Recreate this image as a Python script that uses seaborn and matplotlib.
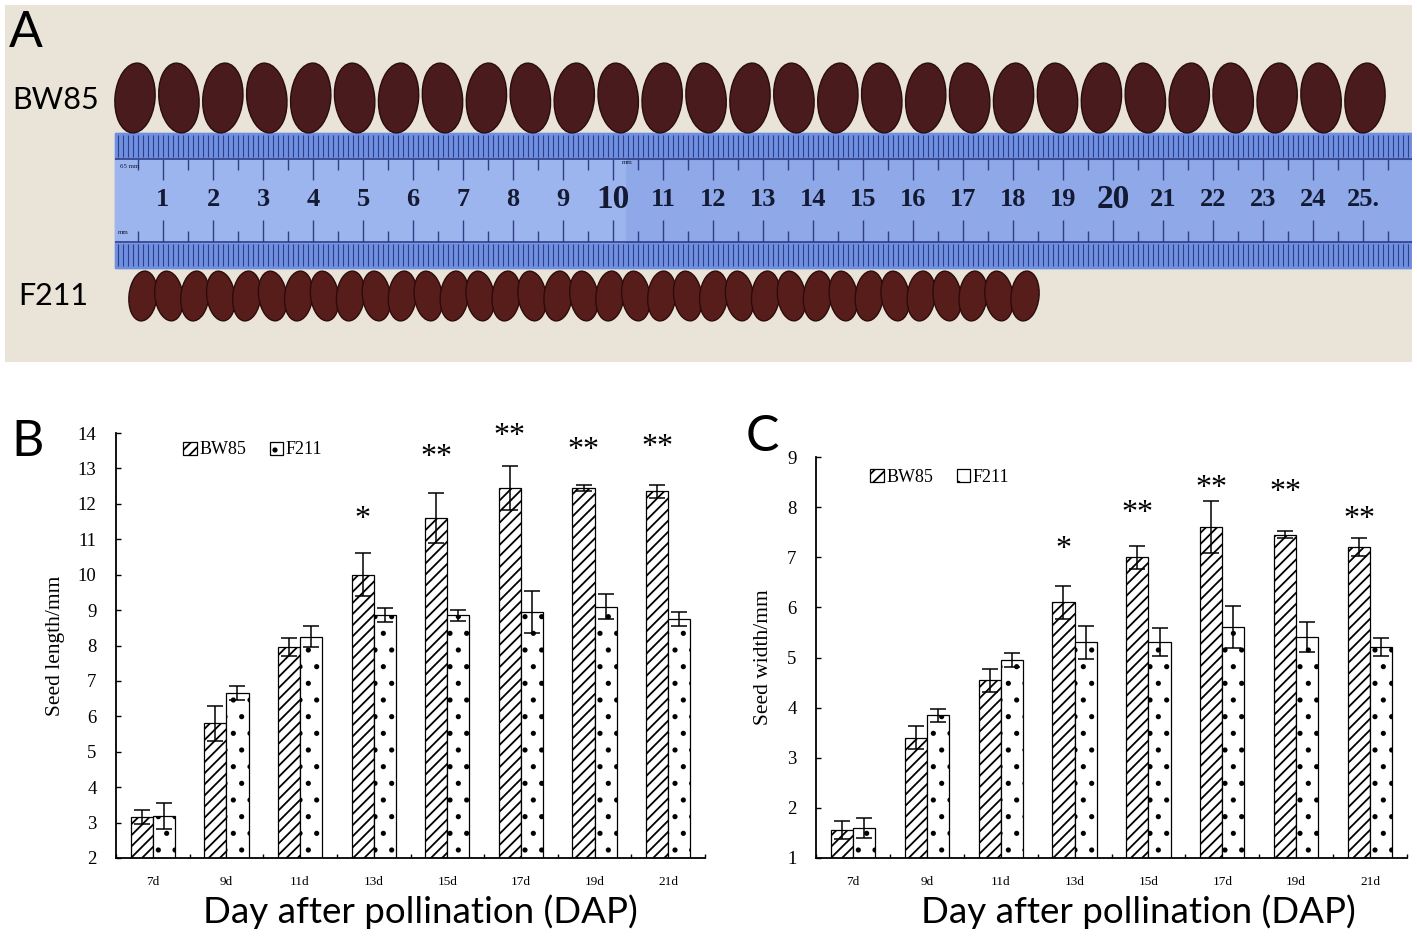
import numpy as np
import pandas as pd
import matplotlib
matplotlib.use("Agg")
import matplotlib.pyplot as plt
import seaborn as sns
from matplotlib.patches import Rectangle, Ellipse, Patch

# ---------------- data ----------------
days = ["7d", "9d", "11d", "13d", "15d", "17d", "19d", "21d"]
genotypes = ["BW85", "F211"]

length_bw85 = [3.15, 5.8, 7.95, 10.0, 11.6, 12.45, 12.45, 12.35]
length_bw85_err = [0.2, 0.5, 0.25, 0.6, 0.7, 0.62, 0.08, 0.18]
length_f211 = [3.18, 6.65, 8.25, 8.85, 8.85, 8.95, 9.1, 8.75]
length_f211_err = [0.37, 0.2, 0.3, 0.2, 0.15, 0.6, 0.35, 0.2]

width_bw85 = [1.55, 3.4, 4.55, 6.1, 7.0, 7.6, 7.45, 7.2]
width_bw85_err = [0.18, 0.23, 0.23, 0.33, 0.23, 0.52, 0.07, 0.18]
width_f211 = [1.6, 3.85, 4.95, 5.3, 5.3, 5.6, 5.4, 5.2]
width_f211_err = [0.2, 0.13, 0.13, 0.33, 0.28, 0.42, 0.3, 0.18]

signif = ["", "", "", "*", "**", "**", "**", "**"]
length_sig_y = [0, 0, 0, 11.55, 13.3, 13.9, 13.5, 13.6]
width_sig_y = [0, 0, 0, 7.15, 7.87, 8.37, 8.3, 7.75]

length_ticks = list(range(2, 15))
width_ticks = list(range(1, 10))

ruler_numbers = list(range(1, 26))
n_seeds_bw85 = 29
n_seeds_f211 = 35

SERIF = ["Liberation Serif", "DejaVu Serif"]
SANS = ["Lato", "Open Sans", "DejaVu Sans"]
plt.rcParams["hatch.linewidth"] = 1.3

W, H = 1417, 944
fig = plt.figure(figsize=(W / 100, H / 100), dpi=100)
fig.patch.set_facecolor("white")


def px_axes(l, t, r, b):
    return fig.add_axes([l / W, 1 - b / H, (r - l) / W, (b - t) / H])


# ---------------- panel A (photo illustration) ----------------
axA = px_axes(5, 5, 1412, 362)
axA.set_xlim(5, 1412)
axA.set_ylim(362, 5)
axA.axis("off")
axA.add_patch(Rectangle((5, 5), 1407, 357, color="#e9e3d8", zorder=0))
# ruler
axA.add_patch(Rectangle((115, 133), 1297, 135, color="#8ea8e8", zorder=1))
axA.add_patch(Rectangle((115, 133), 1297, 26, color="#6f8fe0", zorder=1))
axA.add_patch(Rectangle((115, 242), 1297, 26, color="#6f8fe0", zorder=1))
axA.add_patch(Rectangle((115, 159), 510, 83, color="#9db5ee", zorder=1))
mm = np.arange(118, 1412, 5.0)
axA.vlines(mm, 135, 157, color="#2f3f86", lw=0.8, zorder=2)
axA.vlines(mm, 244, 266, color="#2f3f86", lw=0.8, zorder=2)
axA.hlines([159, 242], 115, 1412, color="#2f3f86", lw=1.2, zorder=2)
half = np.arange(138, 1412, 50.0)
axA.vlines(half, 159, 170, color="#2f3f86", lw=1.0, zorder=2)
axA.vlines(half, 231, 242, color="#2f3f86", lw=1.0, zorder=2)
for n in ruler_numbers:
    xc = 113 + 50 * n
    axA.vlines(xc, 159, 180, color="#2f3f86", lw=1.0, zorder=2)
    axA.vlines(xc, 220, 242, color="#2f3f86", lw=1.0, zorder=2)
    big = n in (10, 20)
    axA.text(xc, 200, str(n) + ("." if n == 25 else ""), ha="center", va="center",
             fontsize=24 if big else 19, fontweight="bold", family=SERIF,
             color="#141a33", zorder=3)
axA.text(120, 167, "65 mm", fontsize=5, family=SERIF, color="#141a33", zorder=3, va="center")
axA.text(622, 163, "mm", fontsize=5, family=SERIF, color="#141a33", zorder=3, va="center")
axA.text(118, 232, "mm", fontsize=5, family=SERIF, color="#141a33", zorder=3, va="center")
# seeds
for i, xc in enumerate(np.linspace(135, 1365, n_seeds_bw85)):
    axA.add_patch(Ellipse((xc, 98), 40, 70, angle=(-6 if i % 2 else 5),
                          facecolor="#4a1b1d", edgecolor="#2a0c0e", lw=1, zorder=2))
for i, xc in enumerate(np.linspace(143, 1025, n_seeds_f211)):
    axA.add_patch(Ellipse((xc, 296), 28, 50, angle=(-8 if i % 2 else 6),
                          facecolor="#571d1b", edgecolor="#2c0b0b", lw=1, zorder=2))
axA.text(12, 100, "BW85", fontsize=22, family=SANS, va="center", ha="left", zorder=3)
axA.text(18, 296, "F211", fontsize=22, family=SANS, va="center", ha="left", zorder=3)
axA.text(9, 33, "A", fontsize=36, family=SANS, va="center", ha="left", zorder=3)


# ---------------- bar panels ----------------
def bar_panel(ax, bw, bw_err, f2, f2_err, ticks, ylabel, sig_y, ylab_x, xlab_xy, leg_xy):
    df = pd.DataFrame({
        "day": days * 2,
        "genotype": [genotypes[0]] * len(days) + [genotypes[1]] * len(days),
        "value": bw + f2,
    })
    sns.barplot(data=df, x="day", y="value", hue="genotype", order=days,
                hue_order=genotypes, width=0.6, errorbar=None, ax=ax,
                palette=["white", "white"], edgecolor="black", linewidth=0.9,
                legend=False, saturation=1)
    hatches = ["///", "."]
    means = [bw, f2]
    errs = [bw_err, f2_err]
    centers = []
    bar_conts = list(ax.containers)
    for ci, cont in enumerate(bar_conts):
        xs = []
        for p in cont.patches:
            p.set_hatch(hatches[ci])
            p.set_edgecolor("black")
            xs.append(p.get_x() + p.get_width() / 2)
        centers.append(xs)
    for ci in range(len(centers)):
        ax.errorbar(centers[ci], means[ci], yerr=errs[ci], fmt="none", ecolor="black",
                    elinewidth=1.1, capsize=6, capthick=1.1, zorder=5)
    for i, s in enumerate(signif):
        if s:
            ax.text(centers[0][i], sig_y[i], s, ha="center", va="center",
                    fontsize=23, family=SERIF)
    ax.set_ylim(ticks[0], ticks[-1])
    ax.set_xlim(-0.5, len(days) - 0.5)
    ax.set_yticks(ticks)
    ax.set_yticklabels([str(t) for t in ticks], family=SERIF, fontsize=13.5)
    ax.set_xticks(range(len(days)))
    ax.set_xticklabels(days, family=SERIF, fontsize=9.5)
    ax.set_xticks(np.arange(-0.5, len(days), 1.0), minor=True)
    ax.tick_params(axis="x", which="major", length=0, pad=13)
    ax.tick_params(axis="x", which="minor", direction="in", length=3, width=1)
    ax.tick_params(axis="y", direction="in", length=3.5, width=1, pad=14)
    for s in ("top", "right"):
        ax.spines[s].set_visible(False)
    for s in ("left", "bottom"):
        ax.spines[s].set_linewidth(1.3)
    ax.set_ylabel(ylabel, family=SERIF, fontsize=15.5)
    ax.yaxis.set_label_coords(ylab_x, 0.5)
    ax.set_xlabel("Day after pollination (DAP)", family=SANS, fontsize=26.5)
    ax.xaxis.set_label_coords(*xlab_xy)
    ax.xaxis.label.set_va("center")
    handles = [Patch(facecolor="white", edgecolor="black", hatch=h, label=g, lw=0.9)
               for h, g in zip(hatches, genotypes)]
    ax.legend(handles=handles, loc="center left", bbox_to_anchor=leg_xy, ncol=2,
              frameon=False, handlelength=0.75, handleheight=0.75,
              handletextpad=0.15, columnspacing=1.3, borderpad=0, borderaxespad=0,
              prop={"family": SERIF, "size": 13})


axB = px_axes(116, 433, 705, 858)
bar_panel(axB, length_bw85, length_bw85_err, length_f211, length_f211_err,
          length_ticks, "Seed length/mm", length_sig_y, -(116 - 65) / 589,
          ((420 - 116) / 589, (858 - 912) / 425), ((183 - 116) / 589, 0.96))

axC = px_axes(816, 457, 1407, 858)
bar_panel(axC, width_bw85, width_bw85_err, width_f211, width_f211_err,
          width_ticks, "Seed width/mm", width_sig_y, -(816 - 773) / 591,
          ((1138 - 816) / 591, (858 - 912) / 401), ((870 - 816) / 591, 0.95))

fig.text(11 / W, 1 - 442 / H, "B", fontsize=36, family=SANS, va="center", ha="left")
fig.text(746 / W, 1 - 437 / H, "C", fontsize=36, family=SANS, va="center", ha="left")

fig.savefig("out.png", dpi=100, facecolor="white")
